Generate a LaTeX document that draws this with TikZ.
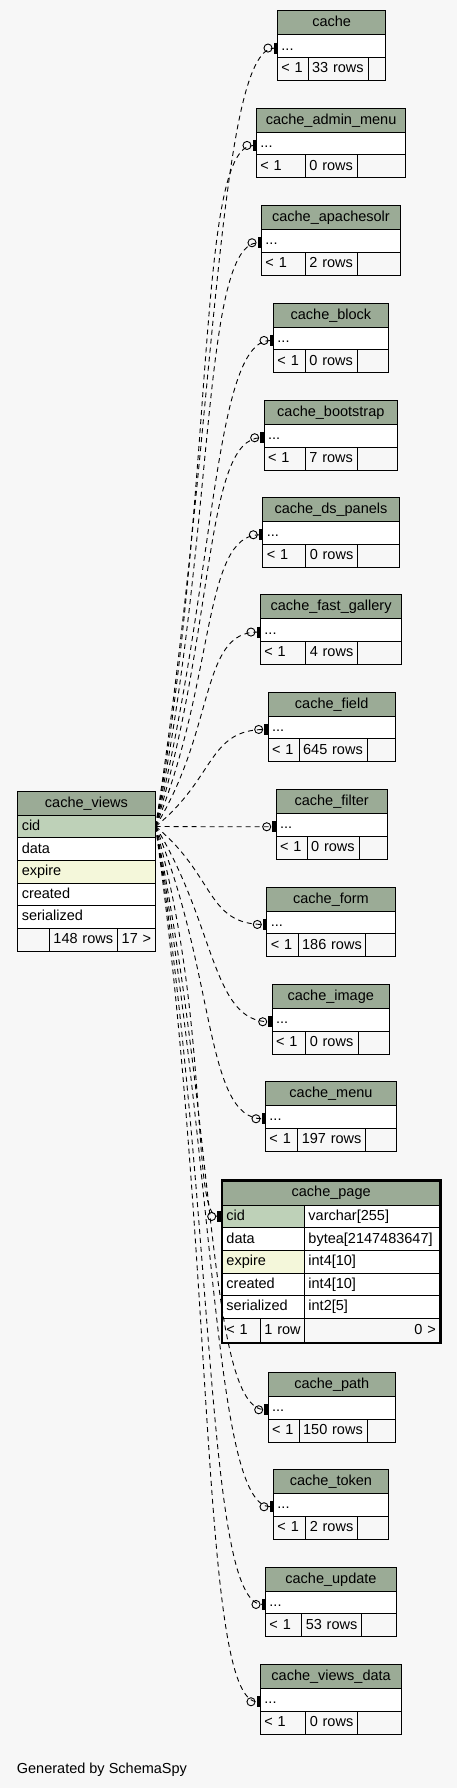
\documentclass[tikz,border=0pt]{standalone}
\usepackage{fontspec}
\setmainfont{Liberation Sans}
\usetikzlibrary{arrows.meta}
\definecolor{bggray}{HTML}{F7F7F7}
\definecolor{hdrgreen}{HTML}{9BAB96}
\definecolor{pkgreen}{HTML}{BED1B8}
\definecolor{idxyellow}{HTML}{F4F7DA}
% #1 name, #2 x-left, #3 x-right, #4 y-top, #5 height, #6 style, #7 align, #8 text
\newcommand{\tcell}[8]{%
  \pgfmathsetmacro\cw{#3-#2}%
  \pgfmathsetmacro\tw{#3-#2-8}%
  \node[tblcell,#6,align=#7,minimum width=\cw pt,minimum height=#5 pt,text width=\tw pt,anchor=north west] (#1) at (#2,#4) {\mbox{#8}};}

\begin{document}
\begin{tikzpicture}[x=1pt,y=-1pt,
  tblcell/.style={draw=black,line width=0.9pt,inner xsep=4pt,inner ysep=0pt,text height=10.5pt,text depth=2.5pt,font=\fontsize{14.5}{17}\selectfont},
  hdr/.style={fill=hdrgreen},
  fldrow/.style={fill=white},
  pk/.style={fill=pkgreen},
  idx/.style={fill=idxyellow},
  foot/.style={fill=bggray},
  relline/.style={line width=0.9pt,dash pattern=on 5pt off 4pt,-{Circle[open,length=9pt,width=9pt,sep=1pt]Bar[width=11pt,line width=3.5pt]}}]
\useasboundingbox (0,0) rectangle (457,1788);
\fill[bggray] (0,0) rectangle (457,1788);
%---cache_views-------------------------------------------
\tcell{views}{17.3}{154.7}{790.7}{24}{hdr}{center}{cache\_views}
\tcell{views-cid}{17.3}{154.7}{814.7}{22.6}{pk}{left}{cid}
\tcell{views-data}{17.3}{154.7}{837.3}{22.6}{fldrow}{left}{data}
\tcell{views-expire}{17.3}{154.7}{859.9}{22.6}{idx}{left}{expire}
\tcell{views-created}{17.3}{154.7}{882.5}{22.6}{fldrow}{left}{created}
\tcell{views-serialized}{17.3}{154.7}{905.1}{22.6}{fldrow}{left}{serialized}
\tcell{views-pa}{17.3}{49}{927.7}{23}{foot}{left}{}
\tcell{views-rw}{49}{117}{927.7}{23}{foot}{left}{148 rows}
\tcell{views-ch}{117}{154.7}{927.7}{23}{foot}{right}{17 >}
%---cache_page--------------------------------------------
\tcell{page}{222}{439.4}{1180.3}{24.4}{hdr}{center}{cache\_page}
\tcell{page-cid}{222}{304}{1204.7}{22.6}{pk}{left}{cid}
\tcell{page-cidt}{304}{439.4}{1204.7}{22.6}{fldrow}{left}{varchar[255]}
\tcell{page-data}{222}{304}{1227.3}{22.6}{fldrow}{left}{data}
\tcell{page-datat}{304}{439.4}{1227.3}{22.6}{fldrow}{left}{bytea[2147483647]}
\tcell{page-expire}{222}{304}{1249.9}{22.6}{idx}{left}{expire}
\tcell{page-expiret}{304}{439.4}{1249.9}{22.6}{fldrow}{left}{int4[10]}
\tcell{page-created}{222}{304}{1272.5}{22.6}{fldrow}{left}{created}
\tcell{page-createdt}{304}{439.4}{1272.5}{22.6}{fldrow}{left}{int4[10]}
\tcell{page-serialized}{222}{304}{1295.1}{22.6}{fldrow}{left}{serialized}
\tcell{page-serializedt}{304}{439.4}{1295.1}{22.6}{fldrow}{left}{int2[5]}
\tcell{page-pa}{222}{260}{1317.7}{24.3}{foot}{left}{< 1}
\tcell{page-rw}{260}{304}{1317.7}{24.3}{foot}{left}{1 row}
\tcell{page-ch}{304}{439.4}{1317.7}{24.3}{foot}{right}{0 >}
\draw[line width=2.6pt] (page.north west) rectangle (page-ch.south east);
\draw[relline] (views-cid.east) .. controls +(55,195) and +(-30,0) .. ([xshift=-1.3pt]page-cid.west);
%---other cache tables------------------------------------
\foreach \tn/\L/\R/\T/\da/\db/\rows in {
  cache/277/385.3/10.3/307.7/367.7/33 rows,
  cache_admin_menu/256/405.3/107.7/305/357.3/0 rows,
  cache_apachesolr/261/400/205/305/357.3/2 rows,
  cache_block/273/388/302.7/305/357.3/0 rows,
  cache_bootstrap/263.7/397/400/305/357.3/7 rows,
  cache_ds_panels/262.3/398.7/497/305.3/357.3/0 rows,
  cache_fast_gallery/260/401.3/594.3/305.3/357.3/4 rows,
  cache_field/267.7/394.7/691.7/298.7/366.7/645 rows,
  cache_filter/275.7/386.7/789/306.7/358.7/0 rows,
  cache_form/266.3/394.7/886.7/297.7/365.3/186 rows,
  cache_image/271.7/389/984/305.3/358/0 rows,
  cache_menu/265/396/1081/297.3/365.3/197 rows,
  cache_path/267.7/395/1372/298.7/366.7/150 rows,
  cache_token/273/388/1469/305.3/357.3/2 rows,
  cache_update/265/396/1566.7/301.3/361.3/53 rows,
  cache_views_data/260/401.3/1664/305.3/357.3/0 rows}{
  \tcell{\tn}{\L}{\R}{\T}{24}{hdr}{center}{\detokenize\expandafter{\tn}}
  \tcell{\tn-dots}{\L}{\R}{\T+24}{22.6}{fldrow}{left}{...}
  \tcell{\tn-pa}{\L}{\da}{\T+46.6}{23}{foot}{left}{< 1}
  \tcell{\tn-rw}{\da}{\db}{\T+46.6}{23}{foot}{left}{\rows}
  \tcell{\tn-ch}{\db}{\R}{\T+46.6}{23}{foot}{left}{}
  \pgfmathsetmacro\cy{0.5*(\T+37.3-825.5)}
  \draw[relline] (views-cid.east) .. controls +(60,\cy) and +(-60,0) .. ([yshift=-2pt]\tn-dots.west);
}
%---text--------------------------------------------------
\node[anchor=base west,inner sep=0pt,font=\fontsize{14.5}{17}\selectfont] (credit) at (16.7,1773) {Generated by SchemaSpy};
\end{tikzpicture}
\end{document}
